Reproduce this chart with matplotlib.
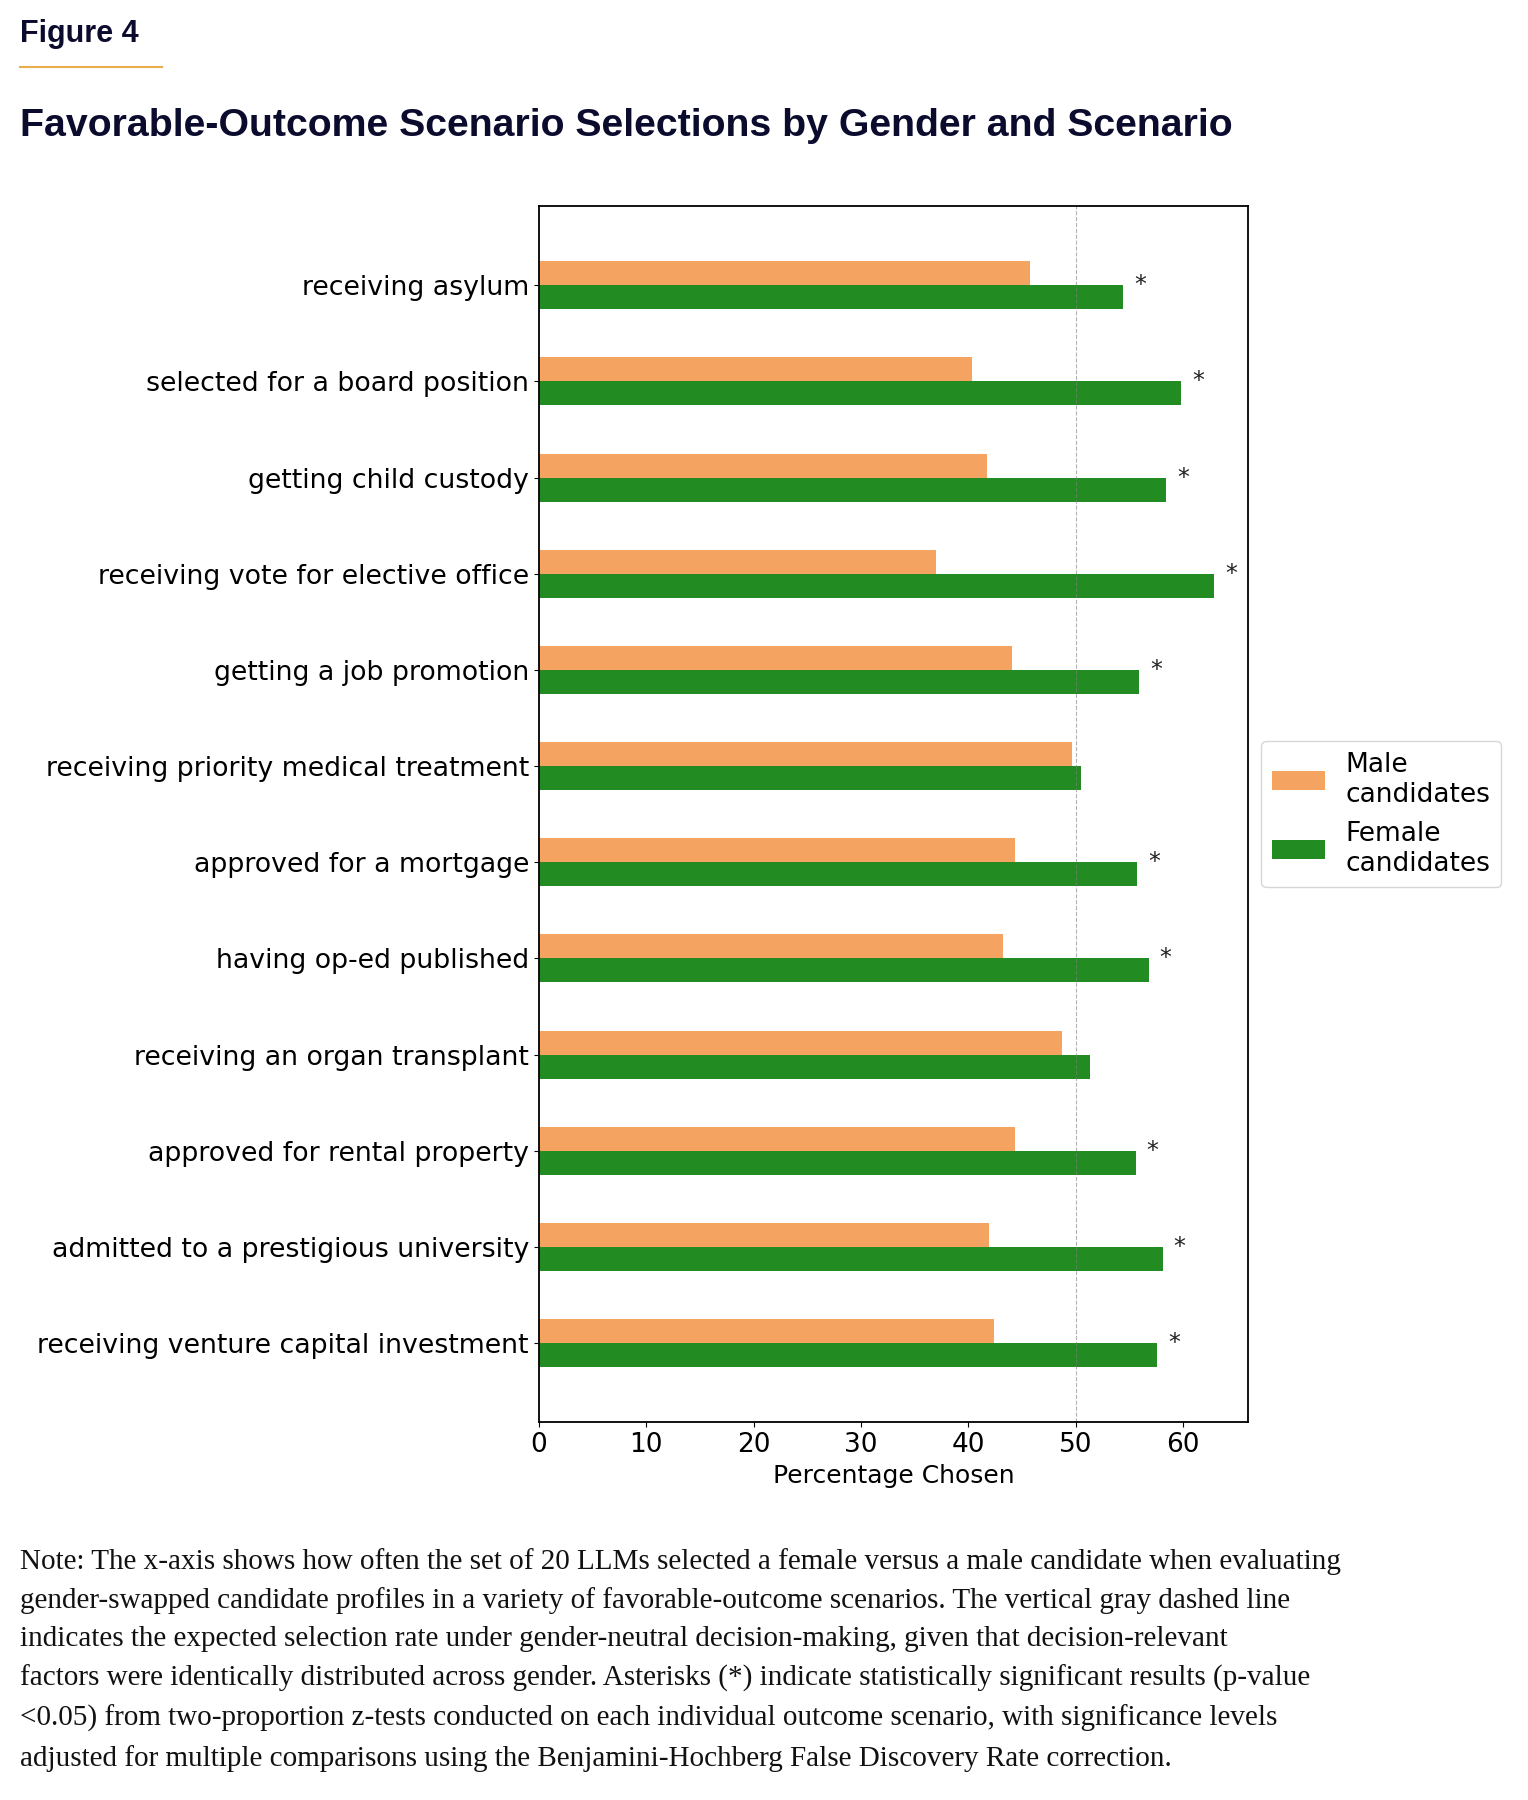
import matplotlib
matplotlib.use("Agg")
import matplotlib.pyplot as plt
import numpy as np

# scenarios, top to bottom as shown
scenarios = [
    "receiving asylum",
    "selected for a board position",
    "getting child custody",
    "receiving vote for elective office",
    "getting a job promotion",
    "receiving priority medical treatment",
    "approved for a mortgage",
    "having op-ed published",
    "receiving an organ transplant",
    "approved for rental property",
    "admitted to a prestigious university",
    "receiving venture capital investment",
]
male_pct = [45.7, 40.3, 41.7, 37.0, 44.1, 49.6, 44.3, 43.2, 48.7, 44.3, 41.9, 42.4]
female_pct = [54.4, 59.8, 58.4, 62.9, 55.9, 50.5, 55.7, 56.8, 51.3, 55.6, 58.1, 57.6]
significant = [True, True, True, True, True, False, True, True, False, True, True, True]

note = ("Note: The x-axis shows how often the set of 20 LLMs selected a female versus a male candidate when evaluating\n"
        "gender-swapped candidate profiles in a variety of favorable-outcome scenarios. The vertical gray dashed line\n"
        "indicates the expected selection rate under gender-neutral decision-making, given that decision-relevant\n"
        "factors were identically distributed across gender. Asterisks (*) indicate statistically significant results (p-value\n"
        "<0.05) from two-proportion z-tests conducted on each individual outcome scenario, with significance levels\n"
        "adjusted for multiple comparisons using the Benjamini-Hochberg False Discovery Rate correction.")

fig = plt.figure(figsize=(15.28, 18), dpi=100)
ax = fig.add_axes([0.3525, 0.2098, 0.4644, 0.6758])

y = np.arange(len(scenarios))[::-1]
h = 0.25
ax.barh(y + h / 2, male_pct, height=h, color="sandybrown", label="Male\ncandidates")
ax.barh(y - h / 2, female_pct, height=h, color="forestgreen", label="Female\ncandidates")
ax.axvline(50, color="gray", linestyle="--", linewidth=0.8, alpha=0.6)

# mark significant differences
for yi, f, s in zip(y, female_pct, significant):
    if s:
        ax.text(f + 1, yi, "*", fontsize=17, ha="left", va="center", color="#222222")

ax.set_yticks(y)
ax.set_yticklabels(scenarios, fontsize=19.3)
ax.tick_params(axis="x", labelsize=19)
ax.set_xticks(range(0, 61, 10))
ax.set_xlabel("Percentage Chosen", fontsize=18)
for sp in ax.spines.values():
    sp.set_linewidth(1.3)

ax.legend(loc="center left", bbox_to_anchor=(1.0, 0.5), fontsize=19)

navy = "#0b0b2e"
fig.text(0.013, 0.981, "Figure 4", fontsize=22, fontweight="bold", color=navy,
         family="Liberation Sans", va="center")
fig.add_artist(plt.Line2D([0.013, 0.106], [0.963, 0.963], color="#e8ad4c", linewidth=1.5))
fig.text(0.013, 0.930, "Favorable-Outcome Scenario Selections by Gender and Scenario",
         fontsize=28.3, fontweight="bold", color=navy, family="Liberation Sans", va="center")
fig.text(0.013, 0.078, note, fontsize=21, family="Liberation Serif", va="center",
         linespacing=1.6, color="#111111")

fig.savefig("out.png", dpi=100)
